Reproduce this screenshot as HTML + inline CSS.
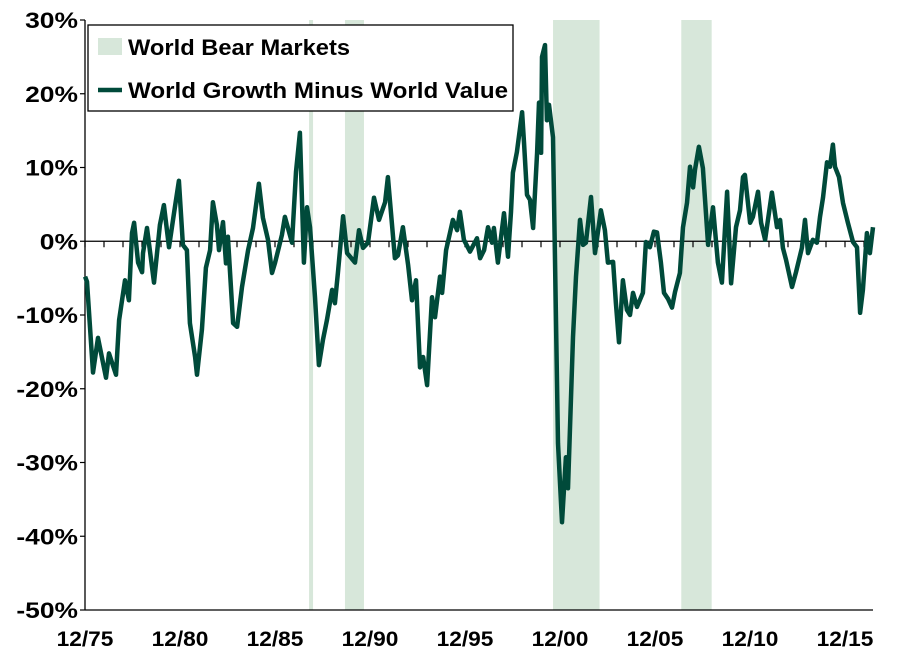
<!DOCTYPE html>
<html><head><meta charset="utf-8"><style>
body{margin:0;background:#fff}
svg text{font-family:"Liberation Sans",Arial,sans-serif;font-weight:bold;fill:#000}
</style></head><body>
<svg id="chart" width="910" height="660" xmlns="http://www.w3.org/2000/svg"></svg>
<script>
const yTicks=[30,20,10,0,-10,-20,-30,-40,-50];
const yTickLabels=["30%","20%","10%","0%","-10%","-20%","-30%","-40%","-50%"];
const xTickYears=[1975.917,1980.917,1985.917,1990.917,1995.917,2000.917,2005.917,2010.917,2015.917];
const xTickLabels=["12/75","12/80","12/85","12/90","12/95","12/00","12/05","12/10","12/15"];
const bearStarts=[1987.71,1989.6,2000.55,2007.3];
const bearEnds=[1987.92,2000.6-10,2003.0,2008.9];
const dates=[1975.92,1976.02,1976.34,1976.6,1977.02,1977.18,1977.55,1977.71,1978.02,1978.23,1978.39,1978.5,1978.71,1978.92,1978.97,1979.18,1979.55,1979.86,1980.07,1980.34,1980.6,1980.86,1981.07,1981.28,1981.44,1981.71,1981.81,1982.07,1982.28,1982.5,1982.65,1982.86,1982.97,1983.18,1983.34,1983.44,1983.71,1983.92,1984.18,1984.5,1984.76,1985.07,1985.28,1985.55,1985.76,1985.92,1986.28,1986.44,1986.81,1987.02,1987.23,1987.44,1987.6,1987.76,1988.02,1988.23,1988.44,1988.65,1988.92,1989.07,1989.23,1989.5,1989.71,1990.13,1990.34,1990.55,1990.81,1991.13,1991.39,1991.71,1991.86,1992.23,1992.39,1992.65,1992.92,1993.13,1993.34,1993.55,1993.71,1993.92,1994.18,1994.34,1994.6,1994.71,1994.92,1995.28,1995.5,1995.65,1995.86,1996.18,1996.55,1996.71,1996.92,1997.13,1997.34,1997.44,1997.65,1997.97,1998.18,1998.34,1998.44,1998.65,1998.92,1999.02,1999.18,1999.34,1999.5,1999.71,1999.81,1999.92,1999.97,2000.13,2000.23,2000.34,2000.55,2000.81,2001.02,2001.23,2001.34,2001.6,2001.76,2001.97,2002.13,2002.28,2002.55,2002.76,2003.07,2003.28,2003.44,2003.71,2003.86,2004.02,2004.23,2004.44,2004.6,2004.76,2004.97,2005.28,2005.44,2005.65,2005.86,2006.02,2006.23,2006.39,2006.6,2006.81,2006.97,2007.23,2007.39,2007.6,2007.76,2007.92,2008.02,2008.23,2008.44,2008.71,2008.97,2009.23,2009.44,2009.71,2009.92,2010.18,2010.39,2010.55,2010.65,2010.92,2011.07,2011.34,2011.5,2011.71,2012.07,2012.34,2012.5,2012.65,2012.81,2013.13,2013.34,2013.65,2013.81,2013.97,2014.23,2014.44,2014.6,2014.76,2014.97,2015.13,2015.28,2015.39,2015.6,2015.81,2016.07,2016.34,2016.55,2016.71,2016.86,2017.07,2017.23,2017.39];
const values=[-4.8,-5.5,-17.8,-13.1,-18.5,-15.2,-18.1,-10.7,-5.3,-8.0,1.1,2.5,-2.9,-4.2,-1.6,1.8,-5.6,2.2,4.9,-0.8,3.8,8.2,-0.5,-1.2,-11.1,-15.7,-18.1,-12.0,-3.6,-1.2,5.3,2.2,-1.2,2.6,-3.0,0.6,-11.1,-11.6,-6.2,-1.2,1.8,7.8,3.2,0.2,-4.3,-2.9,0.85,3.3,-0.2,9.4,14.7,-2.9,4.6,1.9,-7.6,-16.8,-13.4,-10.7,-6.6,-8.4,-4.3,3.4,-1.6,-2.9,1.5,-0.9,-0.2,5.9,2.9,5.3,8.7,-2.3,-1.9,1.9,-3.2,-8.0,-5.3,-17.1,-15.7,-19.5,-7.6,-10.3,-4.8,-7.0,-1.2,2.9,1.5,4.0,0.2,-1.4,0.4,-2.3,-1.2,1.9,-0.2,1.8,-2.9,3.8,-2.1,4.0,9.3,12.1,17.5,13.4,6.3,5.6,1.8,12.0,18.8,12.0,25.0,26.6,16.4,18.5,14.1,-27.4,-38.1,-29.3,-33.5,-13.0,-4.8,2.9,-0.5,-0.2,6.0,-1.6,4.2,1.5,-2.9,-2.8,-8.4,-13.7,-5.3,-9.3,-10.0,-7.0,-8.9,-7.0,-0.1,-0.8,1.3,1.2,-2.9,-7.0,-7.8,-9.0,-6.9,-4.3,1.9,5.2,10.1,7.3,9.7,12.8,9.9,-0.5,4.6,-2.9,-5.6,6.7,-5.7,1.9,4.2,8.7,9.0,2.5,3.3,6.7,2.5,0.2,6.6,1.9,2.9,-0.9,-2.5,-6.2,-4.2,-0.9,2.9,-1.6,0.2,-0.2,3.3,5.9,10.7,10.1,13.1,10.1,8.7,5.2,2.5,-0.1,-0.8,-9.7,-6.6,1.1,-1.6,1.9];

const NS="http://www.w3.org/2000/svg";
const svg=document.getElementById('chart');
const X0=85,X1=873,YT=20,YB=610,YMAX=30,YMIN=-50,T0=1975.917,PXY=19;
const xs=t=>X0+(t-T0)*PXY;
const ys=v=>YT+(YMAX-v)/(YMAX-YMIN)*(YB-YT);
function mk(tag,attrs,parent){const e=document.createElementNS(NS,tag);for(const k in attrs)e.setAttribute(k,attrs[k]);(parent||svg).appendChild(e);return e;}
function widen(t,f){const w=t.getComputedTextLength();t.setAttribute('textLength',(w*f).toFixed(1));t.setAttribute('lengthAdjust','spacingAndGlyphs');}

for(let i=0;i<bearStarts.length;i++){
  const a=Math.max(X0,xs(bearStarts[i])),b=Math.min(X1,xs(bearEnds[i]));
  const r=mk('rect',{x:a,y:YT,width:b-a,height:YB-YT,fill:'#d7e7da'});
  
  
}
const ax=mk('line',{x1:X0,y1:YT,x2:X0,y2:YB,stroke:'#000','stroke-width':1.3});

const bx=mk('line',{x1:X0,y1:YB,x2:X1,y2:YB,stroke:'#000','stroke-width':1.3});

const zl=mk('line',{x1:X0,y1:ys(0),x2:X1,y2:ys(0),stroke:'#000','stroke-width':1.3});

for(let y=Math.ceil(T0);xs(y-0.083)<=X1;y++){
  const x=xs(y-0.083);
  const t=mk('line',{x1:x,y1:ys(0),x2:x,y2:ys(0)+6,stroke:'#000','stroke-width':1.2});
  
}
yTicks.forEach((v,i)=>{
  const t=mk('line',{x1:X0-5,y1:ys(v),x2:X0,y2:ys(v),stroke:'#000','stroke-width':1.2});
  
  const l=mk('text',{x:78,y:ys(v)+8,'text-anchor':'end','font-size':22});
  l.textContent=yTickLabels[i];
  
  widen(l,1.2);
});
xTickYears.forEach((t,i)=>{
  const l=mk('text',{x:xs(t),y:646,'text-anchor':'middle','font-size':21});
  l.textContent=xTickLabels[i];
  
  widen(l,1.08);
});
const d=dates.map((t,i)=>(i?'L':'M')+xs(t).toFixed(1)+' '+ys(values[i]).toFixed(1)).join(' ');
const p=mk('path',{d:d,fill:'none',stroke:'#004a3a','stroke-width':4.5,'stroke-linejoin':'round'});


const lg=mk('g',{});

mk('rect',{x:88,y:25,width:425,height:86,fill:'#fff',stroke:'#000','stroke-width':1.3},lg);
const le1=mk('g',{},lg);

mk('rect',{x:98,y:38,width:24,height:17,fill:'#d7e7da'},le1);
const t1=mk('text',{x:128,y:55,'font-size':22,textLength:222,lengthAdjust:'spacingAndGlyphs'},le1);t1.textContent='World Bear Markets';
const le2=mk('g',{},lg);

mk('line',{x1:98,y1:90,x2:122,y2:90,stroke:'#004a3a','stroke-width':4.5},le2);
const t2=mk('text',{x:128,y:98,'font-size':22,textLength:380,lengthAdjust:'spacingAndGlyphs'},le2);t2.textContent='World Growth Minus World Value';
</script>
</body></html>
